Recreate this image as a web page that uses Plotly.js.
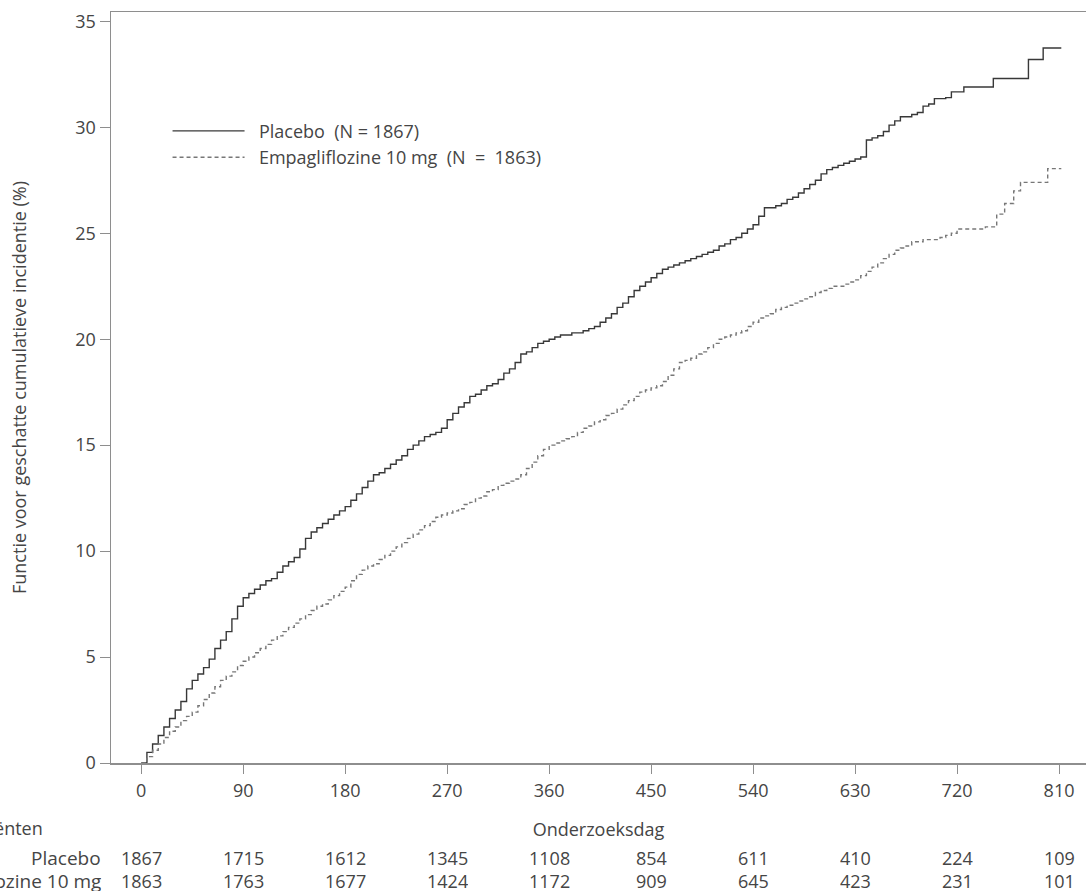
<!DOCTYPE html>
<html>
<head>
<meta charset="utf-8">
<script src="https://cdn.plot.ly/plotly-3.0.1.min.js"></script>
<style>html,body{margin:0;padding:0;background:#fff;}#chart{width:1086px;height:895px;}</style>
</head>
<body>
<div id="chart"></div>
<script>
// Placebo: cumulative incidence (%) by study day (step function)
const placeboDays = [0,5,10,15,20,25,30,35,40,45,50,55,60,65,70,75,80,85,90,95,100,105,110,115,120,125,130,135,140,145,150,155,160,165,170,175,180,185,190,195,200,205,210,215,220,225,230,235,240,245,250,255,260,265,270,275,280,285,290,295,300,305,310,315,320,325,330,335,340,345,350,355,360,365,370,375,380,385,390,395,400,405,410,415,420,425,430,435,440,445,450,455,460,465,470,475,480,485,490,495,500,505,510,515,520,525,530,535,540,545,550,555,560,565,570,575,580,585,590,595,600,605,610,615,620,625,630,635,640,645,650,655,660,665,670,675,680,685,690,695,700,705,710,715,726,752,783,796,812];
const placeboVals = [0,0.5,0.9,1.3,1.7,2.1,2.5,2.9,3.5,3.9,4.2,4.5,4.9,5.4,5.8,6.2,6.8,7.4,7.8,8.0,8.2,8.4,8.6,8.7,9.0,9.3,9.5,9.7,10.1,10.6,10.9,11.1,11.3,11.5,11.7,11.9,12.1,12.4,12.7,13.0,13.3,13.6,13.7,13.9,14.1,14.3,14.5,14.8,15.0,15.2,15.4,15.5,15.6,15.8,16.2,16.5,16.8,17.0,17.3,17.4,17.6,17.8,17.9,18.1,18.4,18.6,18.9,19.3,19.4,19.6,19.8,19.9,20.0,20.1,20.2,20.2,20.3,20.3,20.4,20.5,20.6,20.8,21.0,21.2,21.5,21.7,22.0,22.3,22.5,22.7,22.9,23.1,23.3,23.4,23.5,23.6,23.7,23.8,23.9,24.0,24.1,24.2,24.4,24.5,24.7,24.8,25.0,25.2,25.4,25.8,26.2,26.2,26.3,26.4,26.6,26.7,26.9,27.1,27.3,27.5,27.8,28.0,28.1,28.2,28.3,28.4,28.5,28.6,29.4,29.5,29.6,29.8,30.1,30.3,30.5,30.5,30.6,30.7,31.0,31.1,31.35,31.35,31.4,31.67,31.9,32.3,33.2,33.74,33.74];

// Empagliflozine 10 mg
const empaDays = [0,5,10,15,20,25,30,35,40,45,50,55,60,65,70,75,80,85,90,95,100,105,110,115,120,125,130,135,140,145,150,155,160,165,170,175,180,185,190,195,200,205,210,215,220,225,230,235,240,245,250,255,260,265,270,275,280,285,290,295,300,305,310,315,320,325,330,335,340,345,350,355,360,365,370,375,380,385,390,395,400,405,410,415,420,425,430,435,440,445,450,455,460,465,470,475,480,485,490,495,500,505,510,515,520,525,530,535,540,545,550,555,560,565,570,575,580,585,590,595,600,605,610,615,620,625,630,635,640,645,650,655,660,665,670,675,680,690,700,705,710,715,720,745,755,762,770,776,800,812];
const empaVals = [0,0.3,0.6,0.9,1.2,1.5,1.7,2.0,2.2,2.4,2.7,3.0,3.3,3.6,3.9,4.1,4.3,4.6,4.8,5.0,5.2,5.4,5.6,5.8,6.0,6.2,6.4,6.6,6.8,7.0,7.2,7.4,7.5,7.7,7.9,8.1,8.3,8.6,8.9,9.1,9.3,9.4,9.6,9.8,10.0,10.2,10.4,10.6,10.8,11.0,11.2,11.4,11.6,11.7,11.8,11.9,12.0,12.2,12.3,12.5,12.6,12.8,12.9,13.1,13.2,13.3,13.4,13.6,13.9,14.2,14.5,14.8,15.0,15.1,15.2,15.3,15.4,15.6,15.8,15.9,16.1,16.2,16.4,16.5,16.7,16.9,17.1,17.3,17.5,17.6,17.7,17.8,18.0,18.3,18.6,18.9,19.0,19.1,19.3,19.4,19.6,19.8,20.0,20.1,20.2,20.3,20.4,20.6,20.8,21.0,21.1,21.2,21.4,21.5,21.6,21.7,21.8,21.9,22.0,22.2,22.3,22.4,22.5,22.5,22.6,22.7,22.8,23.0,23.2,23.4,23.6,23.8,24.0,24.2,24.3,24.4,24.6,24.7,24.7,24.8,24.9,25.0,25.2,25.3,25.9,26.4,27.0,27.4,28.05,28.05];

// Number at risk table
const riskDays = [0,90,180,270,360,450,540,630,720,810];
const riskPlacebo = [1867,1715,1612,1345,1108,854,611,410,224,109];
const riskEmpa = [1863,1763,1677,1424,1172,909,645,423,231,101];
const rowLabels = ["Placebo","Empagliflozine 10 mg"];
const riskHeader = "Aantal patiënten";

const seriesNames = ["\u00a0\u00a0Placebo\u00a0 (N = 1867)","\u00a0\u00a0Empagliflozine 10 mg\u00a0 (N\u00a0 =\u00a0 1863)"];
const yTicks = [0,5,10,15,20,25,30,35];
const xTicks = [0,90,180,270,360,450,540,630,720,810];

const FONT = "Open Sans, sans-serif";
const TXT = "#454545";
const AX = "#8e8e8e";
const FS = 18;

const traces = [
  {x: placeboDays, y: placeboVals, name: seriesNames[0], type: "scatter", mode: "lines",
   line: {shape: "hv", color: "#383838", width: 1.4}},
  {x: empaDays, y: empaVals, name: seriesNames[1], type: "scatter", mode: "lines",
   line: {shape: "hv", color: "#777777", width: 1.4, dash: "4px,3px"}}
];

const annotations = [];
const rowY = [-0.1252, -0.1558];
[riskPlacebo, riskEmpa].forEach((arr, r) => {
  arr.forEach((v, i) => {
    annotations.push({x: riskDays[i], y: rowY[r], xref: "x", yref: "paper", text: String(v),
      showarrow: false, xanchor: "center", yanchor: "middle", height: 21, font: {family: FONT, size: FS, color: TXT}});
  });
  annotations.push({x: -0.0085, y: rowY[r], xref: "paper", yref: "paper", text: rowLabels[r],
    showarrow: false, xanchor: "right", yanchor: "middle", height: 21, font: {family: FONT, size: 19, color: TXT}});
});
annotations.push({x: -0.0675, y: -0.0866, xref: "paper", yref: "paper", text: riskHeader,
  showarrow: false, xanchor: "right", yanchor: "middle", font: {family: FONT, size: FS, color: TXT}});

const layout = {
  width: 1086, height: 895,
  margin: {l: 111, r: 0, t: 12, b: 132, pad: 0},
  paper_bgcolor: "#fff", plot_bgcolor: "#fff",
  font: {family: FONT, size: FS, color: TXT},
  showlegend: true,
  legend: {x: 0.058, y: 0.866, xanchor: "left", yanchor: "top", bgcolor: "rgba(0,0,0,0)",
    borderwidth: 0, itemwidth: 72, tracegroupgap: 0, font: {family: FONT, size: 18, color: TXT}},
  xaxis: {range: [-26.7, 833.8], tickvals: xTicks, ticktext: xTicks.map(String),
    showgrid: false, zeroline: false, showline: true, linecolor: AX, linewidth: 1.5, mirror: true,
    ticks: "outside", ticklen: 9, tickwidth: 1, tickcolor: AX, ticklabelstandoff: 2,
    tickfont: {family: FONT, size: FS, color: TXT},
    title: {text: "Onderzoeksdag", standoff: 22, font: {family: FONT, size: FS, color: TXT}},
    automargin: false, fixedrange: true},
  yaxis: {range: [0, 35.44], tickvals: yTicks, ticktext: yTicks.map(String),
    showgrid: false, zeroline: false, showline: true, linecolor: AX, linewidth: 1.5,
    ticks: "outside", ticklen: 10, tickwidth: 1, tickcolor: AX,
    tickfont: {family: FONT, size: FS, color: TXT},
    title: {text: "Functie voor geschatte cumulatieve incidentie (%)", standoff: 44,
      font: {family: FONT, size: 18, color: TXT}},
    automargin: false, fixedrange: true},
  annotations: annotations
};

Plotly.newPlot("chart", traces, layout, {staticPlot: true, displayModeBar: false});
</script>
</body>
</html>
